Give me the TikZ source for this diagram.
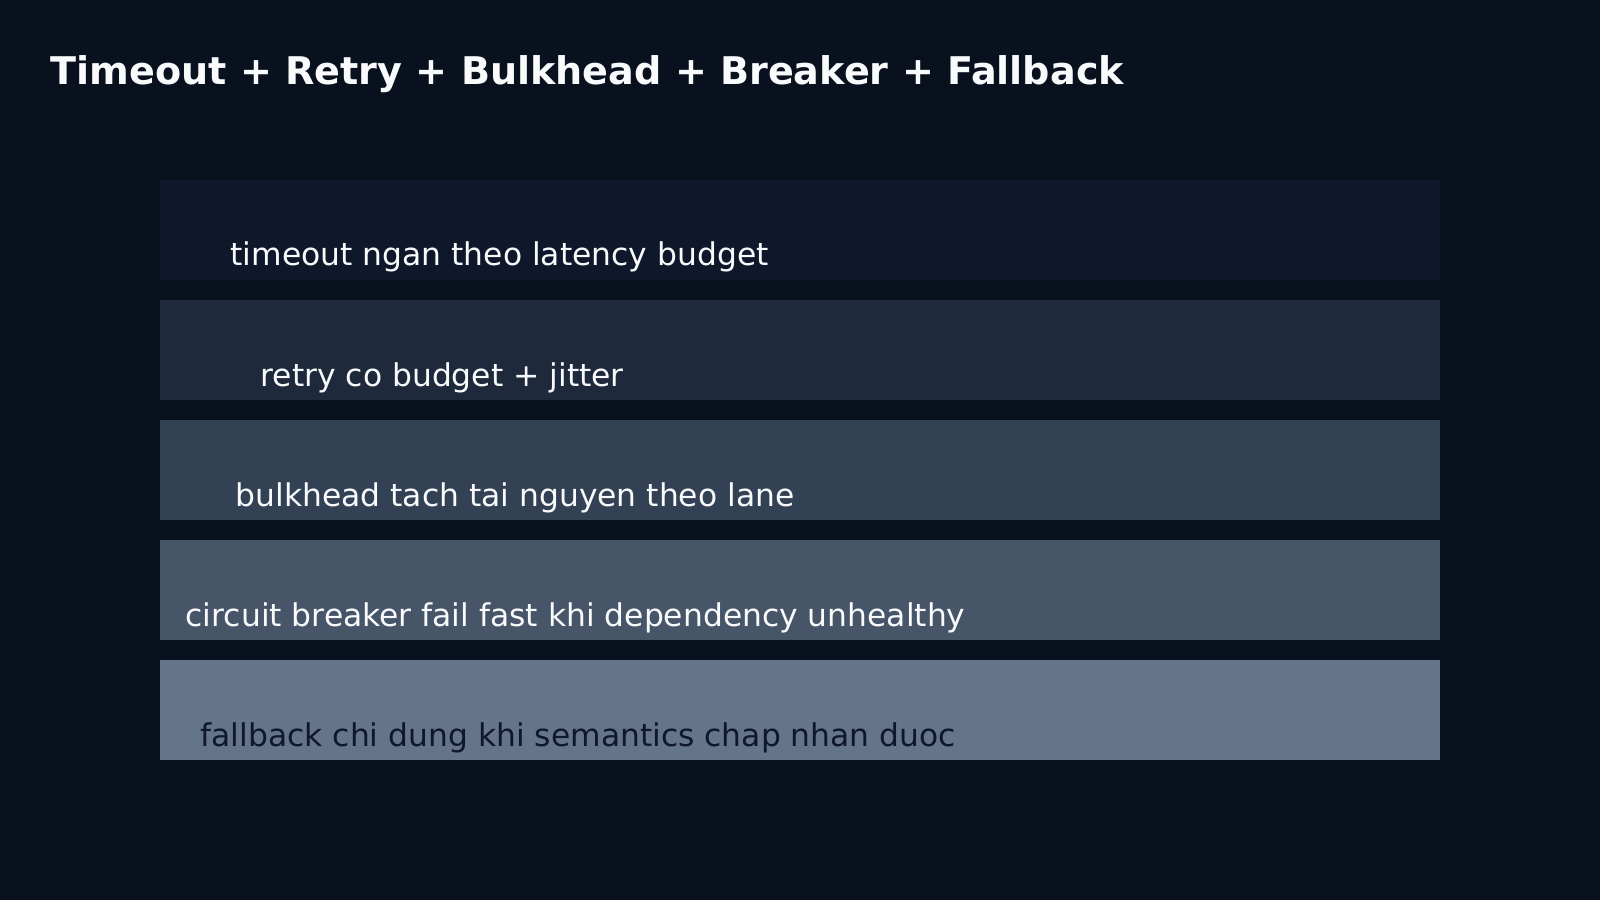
\documentclass[tikz,border=0pt]{standalone}
\usepackage{fontspec}
\setmainfont{DejaVu Sans}
\usetikzlibrary{positioning}

\definecolor{bgdark}{HTML}{08111D}
\definecolor{laneA}{HTML}{0F172A}
\definecolor{laneB}{HTML}{1E293B}
\definecolor{laneC}{HTML}{334155}
\definecolor{laneD}{HTML}{475569}
\definecolor{laneE}{HTML}{64748B}
\definecolor{textlight}{HTML}{F8FAFC}
\definecolor{textdark}{HTML}{0F172A}

\begin{document}
\begin{tikzpicture}[
        lane/.style={rectangle, draw=none, inner sep=0pt, minimum width=12.8cm, minimum height=1cm},
        lanetext/.style={anchor=base west, inner sep=0pt, text=textlight, font=\fontsize{8.92pt}{10pt}\selectfont},
        heading/.style={anchor=base west, inner sep=0pt, text=textlight, font=\fontsize{10.85pt}{13pt}\selectfont\bfseries}
    ]

    % Background
    \fill[bgdark] (0,0) rectangle (16,9);
    \useasboundingbox (0,0) rectangle (16,9);

    % Title
    \node[heading] (title) at (0.5,8.15) {Timeout + Retry + Bulkhead + Breaker + Fallback};

    % Lanes
    \node[lane, fill=laneA] (timeout) at (8,6.7) {};
    \node[lane, fill=laneB] (retry) at (8,5.5) {};
    \node[lane, fill=laneC] (bulkhead) at (8,4.3) {};
    \node[lane, fill=laneD] (breaker) at (8,3.1) {};
    \node[lane, fill=laneE] (fallback) at (8,1.9) {};

    % Lane labels
    \node[lanetext] (timeoutlabel) at (2.30,6.34) {timeout ngan theo latency budget};
    \node[lanetext] (retrylabel) at (2.60,5.14) {retry co budget + jitter};
    \node[lanetext] (bulkheadlabel) at (2.35,3.94) {bulkhead tach tai nguyen theo lane};
    \node[lanetext] (breakerlabel) at (1.85,2.74) {circuit breaker fail fast khi dependency unhealthy};
    \node[lanetext, text=textdark] (fallbacklabel) at (2.00,1.54) {fallback chi dung khi semantics chap nhan duoc};

\end{tikzpicture}
\end{document}
